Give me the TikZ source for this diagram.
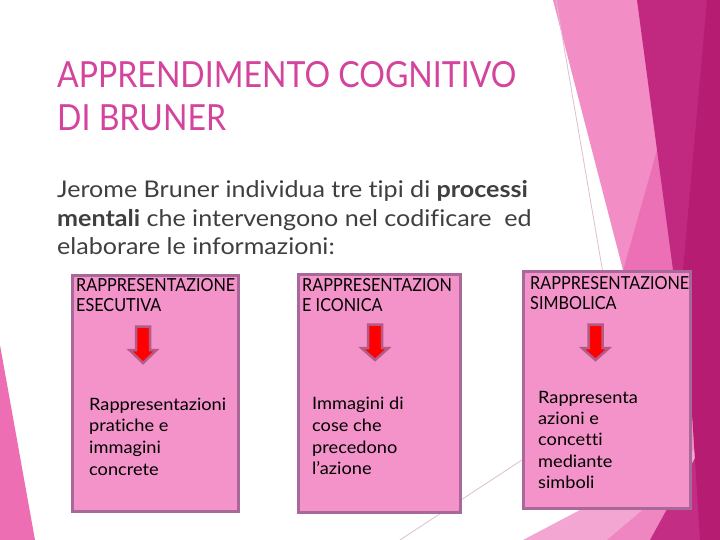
\documentclass[tikz,border=0pt]{standalone}
\usepackage{fontspec}
\setmainfont{Lato}[RawFeature=-liga]
\newfontfamily\titlefont[FakeStretch=0.89,RawFeature=-liga]{Lato}
\newfontfamily\bodyfont[FakeStretch=1.09,RawFeature=-liga]{Lato}
\newfontfamily\headfont[FakeStretch=0.90,RawFeature=-liga]{Lato}
\newfontfamily\descfont[FakeStretch=1.07,RawFeature=-liga]{Lato}
\definecolor{bandpink}{RGB}{242,141,198}
\definecolor{midpink}{RGB}{236,112,181}
\definecolor{lightfacet}{RGB}{244,166,211}
\definecolor{medfacet}{RGB}{239,134,193}
\definecolor{darkmag}{RGB}{192,41,127}
\definecolor{darkermag}{RGB}{183,28,115}
\definecolor{darkmagb}{RGB}{196,45,132}
\definecolor{leftpink}{RGB}{238,110,180}
\definecolor{boxfill}{RGB}{243,147,201}
\definecolor{boxborder}{RGB}{169,104,154}
\definecolor{arrowedge}{RGB}{181,90,134}
\definecolor{titlecol}{RGB}{213,68,156}
\definecolor{bodycol}{RGB}{63,63,63}
\definecolor{thinline}{RGB}{222,190,208}
\newcommand\mkdownarrow[4]{%
  \draw[redarrow] ({#1-7},#2) -- ({#1+7},#2) -- ({#1+7},#3) -- ({#1+13.5},#3)
    -- (#1,#4) -- ({#1-13.5},#3) -- ({#1-7},#3) -- cycle;}
\begin{document}
\begin{tikzpicture}[x=1pt,y=-1pt,
  titletext/.style={font=\titlefont\fontsize{36}{43}\selectfont, text=titlecol, align=left, inner sep=0pt, anchor=north west},
  bodytext/.style={font=\bodyfont\fontsize{23}{28.5}\selectfont, text=bodycol, align=left, inner sep=0pt, anchor=north west},
  headtext/.style={font=\headfont\fontsize{18}{20}\selectfont, text=black, align=left, inner sep=0pt, anchor=north west},
  desctext/.style={font=\descfont\fontsize{17}{21.7}\selectfont, text=black, align=left, inner sep=0pt, anchor=north west},
  box/.style={draw=boxborder, line width=2.5pt, fill=boxfill, anchor=north west, inner sep=0pt},
  redarrow/.style={fill=red, draw=arrowedge, line width=2.5pt, line join=miter},
  thin/.style={draw=thinline, line width=0.8pt}]
\fill[white] (0,0) rectangle (720,540);
\useasboundingbox (0,0) rectangle (720,540);
% background facets
\fill[bandpink] (553,0) -- (720,0) -- (720,540) -- (693,540) -- cycle;
\fill[midpink] (657,150) -- (581,420) -- (700,420) -- cycle;
\fill[lightfacet] (523,540) -- (690,452) -- (720,440) -- (720,540) -- cycle;
\fill[medfacet] (607,540) -- (690,470) -- (720,460) -- (720,540) -- cycle;
\fill[darkmag] (637,0) -- (720,0) -- (720,540) -- (709,540) -- cycle;
\fill[darkmagb] (650,540) -- (705,440) -- (720,432) -- (720,540) -- cycle;
\fill[darkermag] (707,0) -- (720,0) -- (720,540) -- (700,540) -- (683,270) -- cycle;
\fill[leftpink] (0,345) -- (35,540) -- (0,540) -- cycle;
\draw[thin] (556,0) -- (605,285);
\draw[thin] (400,540) -- (560,435);
% title and intro
\node[titletext] (title) at (57,61) {APPRENDIMENTO COGNITIVO\\DI BRUNER};
\node[bodytext] (intro) at (57,180.5) {Jerome Bruner individua tre tipi di \textbf{processi}\\\textbf{mentali} che intervengono nel codificare~ ed\\elaborare le informazioni:};
% boxes
\node[box, minimum width=166pt, minimum height=236pt] (b1) at (71,274) {};
\node[box, minimum width=162pt, minimum height=238pt] (b2) at (297,273) {};
\node[box, minimum width=167pt, minimum height=237pt] (b3) at (522,270) {};
\node[headtext] (h1) at (76,278.5) {RAPPRESENTAZIONE\\ESECUTIVA};
\node[headtext] (h2) at (302,278) {RAPPRESENTAZION\\E ICONICA};
\node[headtext] (h3) at (530,276.5) {RAPPRESENTAZIONE\\SIMBOLICA};
\mkdownarrow{143}{326.5}{350}{363}
\mkdownarrow{375}{324.5}{348}{360}
\mkdownarrow{595.5}{324.5}{348}{360}
\node[desctext] (d1) at (89,397.5) {Rappresentazioni\\pratiche e\\immagini\\concrete};
\node[desctext] (d2) at (312,397) {Immagini di\\cose che\\precedono\\l’azione};
\node[desctext, font=\descfont\fontsize{17}{21.3}\selectfont] (d3) at (538,391) {Rappresenta\\azioni e\\concetti\\mediante\\simboli};
\end{tikzpicture}
\end{document}
